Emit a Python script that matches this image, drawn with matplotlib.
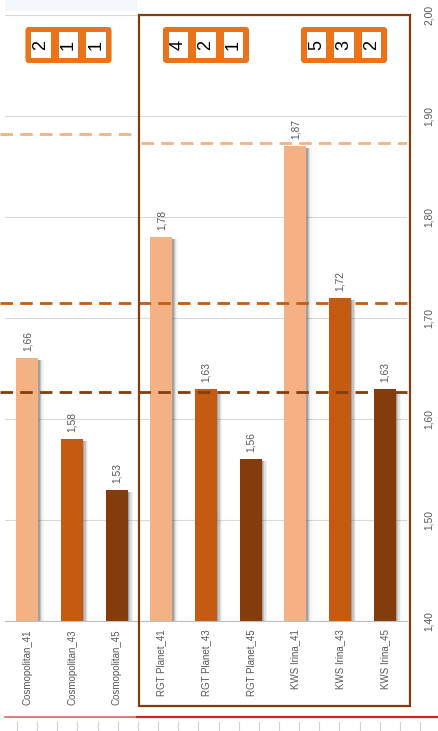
import numpy as np
import matplotlib
matplotlib.use("Agg")
import matplotlib.pyplot as plt
from matplotlib.patches import Rectangle, FancyBboxPatch
from matplotlib.lines import Line2D

# ---- data ----
categories = ['Cosmopolitan_41', 'Cosmopolitan_43', 'Cosmopolitan_45',
              'RGT Planet_41', 'RGT Planet_43', 'RGT Planet_45',
              'KWS Irina_41', 'KWS Irina_43', 'KWS Irina_45']
values = [1.66, 1.58, 1.53, 1.78, 1.63, 1.56, 1.87, 1.72, 1.63]
tick_values = [1.40, 1.50, 1.60, 1.70, 1.80, 1.90, 2.00]

# reference levels (light, medium, dark)
ref_light_left = 1.882
ref_light_right = 1.873
ref_medium = 1.715
ref_dark = 1.627

# ranking boxes: one per variety group
rank_groups = [[2, 1, 1], [4, 2, 1], [5, 3, 2]]

# ---- style ----
LIGHT = '#F4B183'
MEDIUM = '#C55A11'
DARK = '#843C0C'
ORANGE = '#E8731A'
TEXT = '#595959'
bar_colors = [LIGHT, MEDIUM, DARK] * 3
FONT = ['Liberation Sans', 'DejaVu Sans']

W, H = 438, 731
fig = plt.figure(figsize=(W / 100, H / 100), dpi=100)
fig.patch.set_facecolor('white')

ax_left, ax_right = 5 / W, 407 / W
ax_top, ax_bottom = (H - 15) / H, (H - 621) / H
ax = fig.add_axes([ax_left, ax_bottom, ax_right - ax_left, ax_top - ax_bottom])

x = np.arange(len(categories))
ax.set_xlim(-0.5, len(categories) - 0.5)
ax.set_ylim(1.40, 2.00)

# gridlines
for t in tick_values:
    ax.axhline(t, color='#D9D9D9', lw=0.8, zorder=0)

# bar shadows (soft gradient to the right)
bw = 0.49
px_x = 1 / 44.6  # one pixel in x data units
py = 0.1 / 101   # one pixel in y data units
for k, alpha in enumerate([0.30, 0.20, 0.12, 0.06]):
    ax.bar(x + (1.5 + k * 1.3) * px_x, np.array(values) - 1.40 - 2 * py, width=bw, bottom=1.40,
           color='#505050', alpha=alpha, zorder=1, linewidth=0)

# bars
ax.bar(x, np.array(values) - 1.40, width=bw, bottom=1.40, color=bar_colors, zorder=2, linewidth=0)

# value labels
for xi, v in zip(x, values):
    ax.text(xi, v + 7 * py, f'{v:.2f}'.replace('.', ','), rotation=90, ha='center', va='bottom',
            fontsize=7.4, color=TEXT, family=FONT, zorder=5)

# dashed reference lines
dash = (0, (4.5, 2.6))
ax.plot([-0.62, 2.46], [ref_light_left] * 2, color=LIGHT, lw=2.0, linestyle=dash, zorder=3,
        clip_on=False)
ax.plot([2.54, 8.5], [ref_light_right] * 2, color=LIGHT, lw=2.0, linestyle=dash, zorder=3)
ax.plot([-0.62, 8.5], [ref_medium] * 2, color=MEDIUM, lw=2.0, linestyle=dash, zorder=3,
        clip_on=False)
ax.plot([-0.62, 8.5], [ref_dark] * 2, color=DARK, lw=2.0, linestyle=dash, zorder=3,
        clip_on=False)

# axes styling
for s in ['left', 'top', 'right']:
    ax.spines[s].set_visible(False)
ax.spines['bottom'].set_color('#BFBFBF')
ax.spines['bottom'].set_linewidth(0.8)
ax.set_xticks(x)
ax.set_xticklabels(categories, rotation=90, fontsize=7.0, color=TEXT, family=FONT)
ax.tick_params(axis='x', length=0, pad=6)
ax.yaxis.tick_right()
ax.set_yticks(tick_values)
ax.set_yticklabels([f'{t:.2f}'.replace('.', ',') for t in tick_values], rotation=90,
                   fontsize=7.4, color=TEXT, family=FONT, va='center')
ax.tick_params(axis='y', length=0, pad=12)

# ranking boxes
box_w, box_h = 86 * px_x, 36 * py
cell_w, cell_h = 19.5 * px_x, 26 * py
centers = [1 - 3.5 * px_x, 4, 7 + 4 * px_x]
y_center = 2.00 - 30 * py
for cx, ranks in zip(centers, rank_groups):
    rounding = 3.5 * px_x
    box = FancyBboxPatch((cx - box_w / 2, y_center - box_h / 2), box_w, box_h,
                         boxstyle=f'round,pad=0,rounding_size={rounding}',
                         mutation_aspect=py / px_x, facecolor=ORANGE, edgecolor='none',
                         zorder=6, clip_on=False)
    ax.add_patch(box)
    for j, r in enumerate(ranks):
        ccx = cx + (j - 1) * 27.5 * px_x
        ax.add_patch(Rectangle((ccx - cell_w / 2, y_center - cell_h / 2), cell_w, cell_h,
                               facecolor='white', edgecolor='none', zorder=7, clip_on=False))
        ax.text(ccx, y_center, str(r), rotation=90, ha='center', va='center', fontsize=13,
                color='black', family=['Liberation Sans', 'DejaVu Sans'], zorder=8)

# highlight frame around the two later varieties
fig.add_artist(Rectangle((139 / W, (H - 706) / H), (410 - 139) / W, (706 - 15) / H,
                         transform=fig.transFigure, fill=False, edgecolor=DARK, lw=1.6,
                         zorder=10))

# sheet decorations: faint top band, red bottom rule and ruler ticks
fig.add_artist(Rectangle((5 / W, (H - 11) / H), (137 - 5) / W, 11 / H,
                         transform=fig.transFigure, facecolor='#F4F8FB', edgecolor='none'))
fig.add_artist(Line2D([5 / W, 137 / W], [(H - 717) / H] * 2, transform=fig.transFigure,
                      color='#E06060', lw=1.2))
fig.add_artist(Line2D([137 / W, 1.0], [(H - 717) / H] * 2, transform=fig.transFigure,
                      color='#D42020', lw=1.6))
for tx in np.arange(17, W, 20.15):
    fig.add_artist(Line2D([tx / W] * 2, [0, (H - 722) / H], transform=fig.transFigure,
                          color='#D0D0D0', lw=0.8))

fig.savefig('out.png', dpi=100, facecolor='white')
